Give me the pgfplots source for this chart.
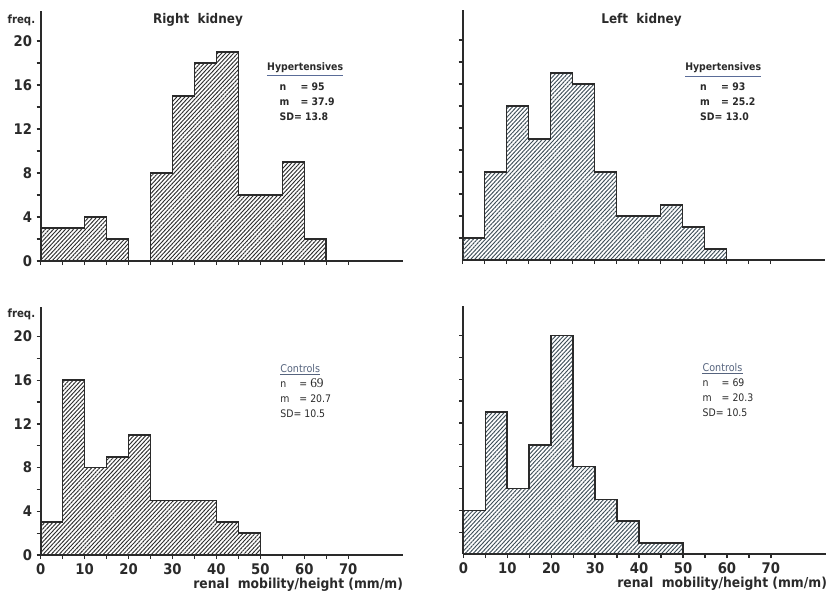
\documentclass[border=0pt]{standalone}
\usepackage{fontspec}
\setmainfont{DejaVu Sans Condensed}
\newfontfamily\seriffont{Liberation Serif}
\usepackage{pgfplots}
\pgfplotsset{compat=1.18}
\usetikzlibrary{patterns.meta}
\definecolor{ink}{HTML}{2A2A2A}
\definecolor{hatchL}{HTML}{2E2E2E}
\definecolor{hatchR}{HTML}{3E4E58}
\definecolor{uline}{HTML}{5A6C98}
\definecolor{ctrl}{HTML}{56647E}
\pgfplotsset{
  panel/.style={
    anchor=origin, x=3.2955pt, xmin=0, xmax=82.5, ymin=0, ymax=22.7,
    axis lines=left, axis line style={-, line width=1.4pt, ink},
    xtick={0,10,...,70}, minor xtick={5,15,...,65},
    tick align=outside, major tick length=3pt, minor tick length=3pt,
    major tick style={ink, line width=1pt}, minor tick style={ink, line width=1pt},
    tick label style={font=\bfseries\fontsize{11}{13}\selectfont, text=ink},
    /pgf/number format/assume math mode=true,
    clip=false,
  },
  hist/.style={const plot, draw=ink, line width=1.2pt,
    pattern={Lines[angle=47,distance=2.2pt,line width=0.7pt]}, pattern color=#1},
}
\newcommand{\stat}{\fontsize{7.8}{11.2}\selectfont}
\begin{document}
\begin{tikzpicture}
\path[use as bounding box] (0,0) rectangle (620.25pt,-444pt);

% ---------- top left: right kidney, hypertensives
\begin{axis}[panel, at={(30.5pt,-195.75pt)}, y=8.25pt,
  ytick={0,4,...,20}, minor ytick={2,6,...,18}, xticklabels={}]
\addplot[hist=hatchL] coordinates {(0,3) (5,3) (10,4) (15,2) (20,0) (25,8) (30,15) (35,18) (40,19) (45,6) (50,6) (55,9) (60,2) (65,2)} \closedcycle;
\node[font=\bfseries\fontsize{10}{12}\selectfont, text=ink] at (axis cs:35.8,21.9) {Right\ \ kidney};
\node[anchor=east, font=\bfseries\fontsize{8.5}{10}\selectfont, text=ink, inner sep=0pt] at (axis cs:-1.2,21.9) {freq.};
\node[anchor=west, font=\bfseries\fontsize{7.8}{9}\selectfont, text=ink, inner sep=0pt] (h1) at (axis cs:51.5,17.55) {Hypertensives};
\draw[uline, line width=0.8pt] ([yshift=-2pt]h1.south west) -- ([yshift=-2pt]h1.south east);
\node[anchor=north west, font=\bfseries\stat, text=ink, inner sep=0pt] at (axis cs:54.3,16.5)
  {\begin{tabular}{@{}l@{}l@{}}n & \ \ = 95\\ m & \ \ = 37.9\\ SD & = 13.8\end{tabular}};
\end{axis}

% ---------- top right: left kidney, hypertensives
\begin{axis}[panel, at={(347pt,-195pt)}, y=8.25pt,
  ytick={2,4,...,20}, yticklabels={}, xticklabels={}]
\addplot[hist=hatchR] coordinates {(0,2) (5,8) (10,14) (15,11) (20,17) (25,16) (30,8) (35,4) (40,4) (45,5) (50,3) (55,1) (60,1)} \closedcycle;
\node[font=\bfseries\fontsize{10}{12}\selectfont, text=ink] at (axis cs:40.7,21.8) {Left\ \ kidney};
\node[anchor=west, font=\bfseries\fontsize{7.8}{9}\selectfont, text=ink, inner sep=0pt] (h2) at (axis cs:50.6,17.45) {Hypertensives};
\draw[uline, line width=0.8pt] ([yshift=-2pt]h2.south west) -- ([yshift=-2pt]h2.south east);
\node[anchor=north west, font=\bfseries\stat, text=ink, inner sep=0pt] at (axis cs:54.0,16.4)
  {\begin{tabular}{@{}l@{}l@{}}n & \ \ = 93\\ m & \ \ = 25.2\\ SD & = 13.0\end{tabular}};
\end{axis}

% ---------- bottom left: right kidney, controls
\begin{axis}[panel, at={(30.5pt,-416.25pt)}, y=8.19pt,
  ytick={0,4,...,20}, minor ytick={2,6,...,18}]
\addplot[hist=hatchL] coordinates {(0,3) (5,16) (10,8) (15,9) (20,11) (25,5) (30,5) (35,5) (40,3) (45,2) (50,2)} \closedcycle;
\node[anchor=east, font=\bfseries\fontsize{8.5}{10}\selectfont, text=ink, inner sep=0pt] at (axis cs:-1.2,22.0) {freq.};
\node[anchor=east, font=\bfseries\fontsize{10.3}{12}\selectfont, text=ink, inner sep=0pt] at (axis cs:82.5,-2.75) {renal\ \ mobility/height (mm/m)};
\node[anchor=west, font=\fontsize{8}{9}\selectfont, text=ctrl, inner sep=0pt] (c1) at (axis cs:54.5,17.1) {Controls};
\draw[ctrl, line width=0.6pt] ([yshift=-1.5pt]c1.south west) -- ([yshift=-1.5pt]c1.south east);
\node[anchor=north west, font=\stat, text=ink, inner sep=0pt] at (axis cs:54.5,16.3)
  {\begin{tabular}{@{}l@{}l@{}}n & \ \ = {\seriffont\fontsize{10}{11}\selectfont 69}\\ m & \ \ = 20.7\\ SD & = 10.5\end{tabular}};
\end{axis}

% ---------- bottom right: left kidney, controls
\begin{axis}[panel, at={(347.5pt,-415.5pt)}, y=8.19pt,
  ytick={2,4,...,20}, yticklabels={}]
\addplot[hist=hatchR] coordinates {(0,4) (5,13) (10,6) (15,10) (20,20) (25,8) (30,5) (35,3) (40,1) (45,1) (50,1)} \closedcycle;
\node[anchor=east, font=\bfseries\fontsize{10.3}{12}\selectfont, text=ink, inner sep=0pt] at (axis cs:82.8,-2.75) {renal\ \ mobility/height (mm/m)};
\node[anchor=west, font=\fontsize{8}{9}\selectfont, text=ctrl, inner sep=0pt] (c2) at (axis cs:54.4,17.1) {Controls};
\draw[ctrl, line width=0.6pt] ([yshift=-1.5pt]c2.south west) -- ([yshift=-1.5pt]c2.south east);
\node[anchor=north west, font=\stat, text=ink, inner sep=0pt] at (axis cs:54.4,16.3)
  {\begin{tabular}{@{}l@{}l@{}}n & \ \ = 69\\ m & \ \ = 20.3\\ SD & = 10.5\end{tabular}};
\end{axis}
\end{tikzpicture}
\end{document}
